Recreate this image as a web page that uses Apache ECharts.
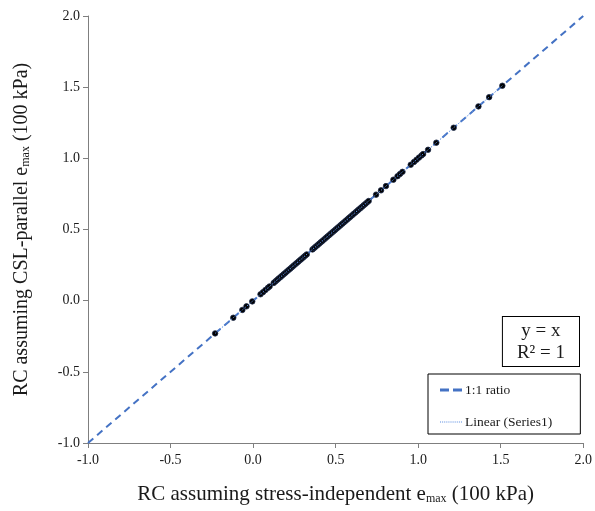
<!DOCTYPE html>
<html>
<head>
<meta charset="utf-8">
<script src="https://cdn.jsdelivr.net/npm/echarts@6/dist/echarts.min.js"></script>
<style>html,body{margin:0;padding:0;background:#fff}#c{width:595px;height:511px}</style>
</head>
<body>
<div id="c"></div>
<script>
// Data
var xVals = [-0.23, -0.12, -0.065, -0.04, -0.005, 0.045, 0.06, 0.075, 0.09, 0.10, 0.125, 0.135, 0.145, 0.155, 0.165, 0.175, 0.185, 0.195, 0.205, 0.215, 0.225, 0.235, 0.245, 0.255, 0.265, 0.275, 0.285, 0.295, 0.305, 0.315, 0.325, 0.36, 0.37, 0.38, 0.39, 0.40, 0.41, 0.42, 0.43, 0.44, 0.45, 0.46, 0.47, 0.48, 0.49, 0.50, 0.51, 0.52, 0.53, 0.54, 0.55, 0.56, 0.57, 0.58, 0.59, 0.60, 0.61, 0.62, 0.63, 0.64, 0.65, 0.66, 0.67, 0.68, 0.69, 0.70, 0.745, 0.775, 0.805, 0.85, 0.875, 0.89, 0.905, 0.955, 0.975, 0.99, 1.005, 1.02, 1.03, 1.06, 1.11, 1.215, 1.365, 1.43, 1.51];
var yVals = [-0.23, -0.12, -0.065, -0.04, -0.005, 0.045, 0.06, 0.075, 0.09, 0.10, 0.125, 0.135, 0.145, 0.155, 0.165, 0.175, 0.185, 0.195, 0.205, 0.215, 0.225, 0.235, 0.245, 0.255, 0.265, 0.275, 0.285, 0.295, 0.305, 0.315, 0.325, 0.36, 0.37, 0.38, 0.39, 0.40, 0.41, 0.42, 0.43, 0.44, 0.45, 0.46, 0.47, 0.48, 0.49, 0.50, 0.51, 0.52, 0.53, 0.54, 0.55, 0.56, 0.57, 0.58, 0.59, 0.60, 0.61, 0.62, 0.63, 0.64, 0.65, 0.66, 0.67, 0.68, 0.69, 0.70, 0.745, 0.775, 0.805, 0.85, 0.875, 0.89, 0.905, 0.955, 0.975, 0.99, 1.005, 1.02, 1.03, 1.06, 1.11, 1.215, 1.365, 1.43, 1.51];
var ratioX = [-1, 2];
var ratioY = [-1, 2];
var trendSlope = 1;
var trendIntercept = 0;
var axisTicks = [-1.0, -0.5, 0.0, 0.5, 1.0, 1.5, 2.0];
var seriesNames = ['Series1', '1:1 ratio', 'Linear (Series1)'];
var eqLines = ['y = x', 'R² = 1'];

var pts = xVals.map(function (x, i) { return [x, yVals[i]]; });
var ratioData = ratioX.map(function (x, i) { return [x, ratioY[i]]; });
var xMin = Math.min.apply(null, xVals), xMax = Math.max.apply(null, xVals);
var trendData = [[xMin, trendSlope * xMin + trendIntercept], [xMax, trendSlope * xMax + trendIntercept]];

var FONT = 'Liberation Serif';
function axisBase(titleSize) {
  return {
    type: 'value', min: axisTicks[0], max: axisTicks[axisTicks.length - 1], interval: 0.5,
    splitLine: { show: false },
    axisLine: { show: true, onZero: false, lineStyle: { color: '#7f7f7f', width: 1 } },
    axisTick: { show: true, inside: false, length: 5, lineStyle: { color: '#7f7f7f' } },
    axisLabel: { color: '#1a1a1a', fontFamily: FONT, fontSize: 14, formatter: function (v) { return v.toFixed(1); } },
    nameLocation: 'middle',
    nameTextStyle: { color: '#1a1a1a', fontFamily: FONT, fontSize: titleSize,
      rich: { sub: { fontFamily: FONT, fontSize: 12, verticalAlign: 'bottom', padding: [9, 0, 0, 0], color: '#1a1a1a' } } }
  };
}
var xa = axisBase(21), ya = axisBase(20);
xa.name = 'RC assuming stress-independent e{sub|max} (100 kPa)'; xa.nameGap = 41; xa.axisLabel.margin = 10;
ya.name = 'RC assuming CSL-parallel e{sub|max} (100 kPa)'; ya.nameGap = 56; ya.axisLabel.margin = 8;

var chart = echarts.init(document.getElementById('c'), null, { renderer: 'canvas' });
chart.setOption({
  animation: false,
  backgroundColor: '#fff',
  grid: { left: 88, right: 11, top: 16, bottom: 68, containLabel: false },
  xAxis: xa,
  yAxis: ya,
  legend: {
    orient: 'vertical', left: 428, top: 374,
    data: [
      { name: seriesNames[1], icon: 'path://M0,0h9v3h-9z M13,0h9v3h-9z' },
      { name: seriesNames[2], icon: 'path://M0,0h1v1h-1z M2,0h1v1h-1z M4,0h1v1h-1z M6,0h1v1h-1z M8,0h1v1h-1z M10,0h1v1h-1z M12,0h1v1h-1z M14,0h1v1h-1z M16,0h1v1h-1z M18,0h1v1h-1z M20,0h1v1h-1z' }
    ],
    borderColor: '#000', borderWidth: 1, padding: [7, 28, 3, 12], itemGap: 14,
    itemWidth: 22, itemHeight: 3,
    textStyle: { fontFamily: FONT, fontSize: 13.5, color: '#1a1a1a', padding: [0, 0, 0, -2], height: 18, lineHeight: 18 }
  },
  graphic: [{
    type: 'text', right: 15, top: 316, z: 100,
    style: { text: eqLines.join('\n'), font: '19px "Liberation Serif"', fill: '#1a1a1a', textAlign: 'center', lineHeight: 22,
      backgroundColor: '#fff', borderColor: '#000', borderWidth: 1, padding: [3, 14, 2, 14] }
  }],
  series: [
    { name: seriesNames[1], type: 'line', data: ratioData, symbol: 'none', z: 2,
      lineStyle: { color: '#4472c4', width: 2, type: [7, 5] }, itemStyle: { color: '#4472c4' } },
    { name: seriesNames[2], type: 'line', data: trendData, symbol: 'none', z: 4,
      lineStyle: { color: '#5b8de0', width: 1, type: [1.5, 1.5] }, itemStyle: { color: '#5b8de0' } },
    { name: seriesNames[0], type: 'scatter', data: pts, symbol: 'circle', symbolSize: 5.5, z: 3,
      itemStyle: { color: '#000', borderColor: '#1d2b4a', borderWidth: 0.8, opacity: 1 } }
  ]
});
</script>
</body>
</html>
